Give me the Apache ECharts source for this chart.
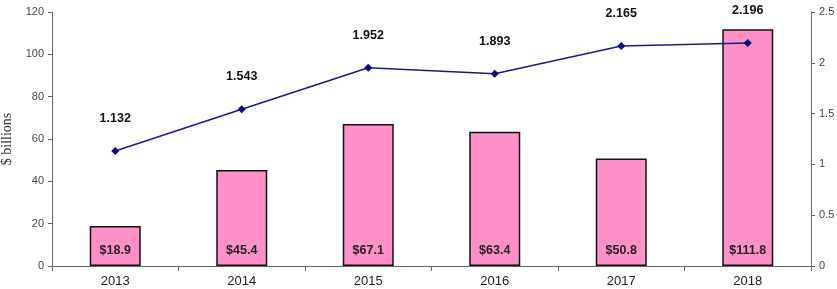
<!DOCTYPE html>
<html><head><meta charset="utf-8">
<script src="https://cdn.jsdelivr.net/npm/echarts@6/dist/echarts.min.js"></script>
<style>html,body{margin:0;padding:0;background:#fff}#c{width:837px;height:289px}</style>
</head><body><div id="c"></div>
<script>
const categories = ['2013','2014','2015','2016','2017','2018'];
const billions = [18.9, 45.4, 67.1, 63.4, 50.8, 111.8];
const ratio = [1.132, 1.543, 1.952, 1.893, 2.165, 2.196];
const billionLabels = ['$18.9','$45.4','$67.1','$63.4','$50.8','$111.8'];
const ratioLabels = ['1.132','1.543','1.952','1.893','2.165','2.196'];

const chart = echarts.init(document.getElementById('c'));
const axisLine = {show:true, lineStyle:{color:'#666', width:1}};
chart.setOption({
  animation:false,
  textStyle:{fontFamily:'Liberation Sans, Arial, sans-serif'},
  grid:{left:52, right:26, top:12, bottom:23, containLabel:false, outerBoundsMode:'none'},
  xAxis:{type:'category', data:categories, boundaryGap:true,
    axisLine:{show:true, lineStyle:{color:'#666'}},
    axisTick:{show:true, length:5, lineStyle:{color:'#666'}},
    axisLabel:{color:'#222', fontSize:13, margin:9}},
  yAxis:[
    {type:'value', min:0, max:120, interval:20,
      name:'$ billions', nameLocation:'middle', nameGap:36, nameRotate:90,
      nameTextStyle:{fontFamily:'Liberation Serif, Times New Roman, serif', fontSize:14, color:'#333'},
      axisLine:axisLine, axisTick:{show:true, length:4, inside:false, lineStyle:{color:'#666'}},
      axisLabel:{color:'#444', fontSize:11, margin:8}, splitLine:{show:false}},
    {type:'value', min:0, max:2.5, interval:0.5, position:'right',
      axisLine:axisLine, axisTick:{show:true, length:4, lineStyle:{color:'#666'}},
      axisLabel:{color:'#444', fontSize:11, margin:8}, splitLine:{show:false}}
  ],
  series:[
    {type:'bar', yAxisIndex:0, data:billions, barWidth:51,
      itemStyle:{color:'#ff90c8', borderColor:'#111', borderWidth:1.5},
      label:{show:true, position:'insideBottom', distance:9,
        formatter:p=>billionLabels[p.dataIndex], color:'#222', fontWeight:'bold', fontSize:12.5}},
    {type:'line', yAxisIndex:1, data:ratio, symbol:'diamond', symbolSize:8,
      lineStyle:{color:'#1a1a8a', width:1.5}, itemStyle:{color:'#000080'},
      label:{show:true, position:'top', distance:22,
        formatter:p=>ratioLabels[p.dataIndex], color:'#111', fontWeight:'bold', fontSize:12.5}}
  ]
});
</script></body></html>
